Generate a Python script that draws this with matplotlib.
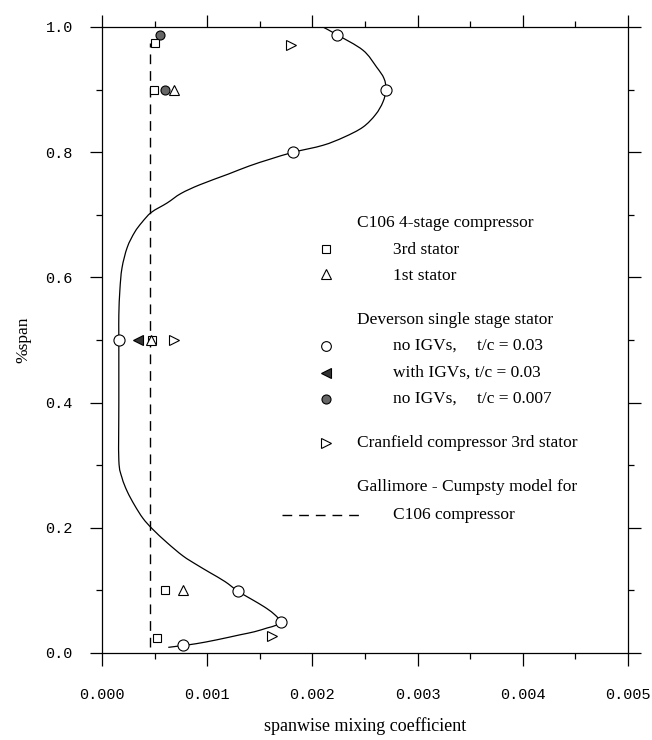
import matplotlib
matplotlib.use("Agg")
import numpy as np
import matplotlib.pyplot as plt
from matplotlib.path import Path
from matplotlib.patches import PathPatch
from matplotlib.ticker import MultipleLocator

# fitted curve through the Deverson no-IGV points
curve_x = [0.00210, 0.00223, 0.00248, 0.00261, 0.00268, 0.00270, 0.00267, 0.00260,
           0.00248, 0.00230, 0.00210, 0.00182, 0.00160, 0.00140, 0.00120, 0.00093,
           0.00075, 0.00062, 0.00047, 0.00038, 0.00031, 0.00024, 0.00019, 0.00017,
           0.00016, 0.00016, 0.00016, 0.00016, 0.00019, 0.00024, 0.00031, 0.00039,
           0.00048, 0.00062, 0.00077, 0.00090, 0.00103, 0.00117, 0.00129, 0.00142,
           0.00154, 0.00163, 0.00170, 0.00165, 0.00157, 0.00145, 0.00131, 0.00109,
           0.00090, 0.00077, 0.00063]
curve_y = [1.000, 0.988, 0.963, 0.936, 0.918, 0.900, 0.880, 0.860,
           0.840, 0.824, 0.811, 0.800, 0.789, 0.778, 0.765, 0.748,
           0.734, 0.719, 0.704, 0.688, 0.672, 0.648, 0.615, 0.580,
           0.540, 0.500, 0.400, 0.308, 0.280, 0.258, 0.236, 0.215,
           0.198, 0.176, 0.155, 0.141, 0.128, 0.114, 0.099, 0.086,
           0.074, 0.063, 0.050, 0.044, 0.040, 0.034, 0.029, 0.021,
           0.015, 0.012, 0.009]

# C106 4-stage compressor
c106_s3_x = [0.00050, 0.00049, 0.00048, 0.00060, 0.00052]
c106_s3_y = [0.975, 0.900, 0.500, 0.100, 0.024]
c106_s1_x = [0.00068, 0.00047, 0.00077]
c106_s1_y = [0.900, 0.500, 0.100]

# Deverson single stage stator
dev_noigv_x = [0.00223, 0.00270, 0.00182, 0.00016, 0.00129, 0.00170, 0.00077]
dev_noigv_y = [0.988, 0.900, 0.800, 0.500, 0.099, 0.050, 0.012]
dev_igv_x = [0.00034]
dev_igv_y = [0.500]
dev_thin_x = [0.00055, 0.00060]
dev_thin_y = [0.988, 0.900]

# Cranfield compressor 3rd stator
cran_x = [0.00180, 0.00068, 0.00162]
cran_y = [0.972, 0.500, 0.027]

# Gallimore - Cumpsty model
model_x = [0.00046, 0.00046]
model_y = [0.010, 0.975]

serif = "Liberation Serif"
mono = "Liberation Mono"


def smooth_path(xs, ys):
    # Catmull-Rom through the read points, drawn as cubic Bezier pieces
    p = np.column_stack([xs, ys])
    verts = [p[0]]
    codes = [Path.MOVETO]
    n = len(p)
    for i in range(n - 1):
        p0 = p[i - 1] if i > 0 else p[i]
        p1 = p[i]
        p2 = p[i + 1]
        p3 = p[i + 2] if i + 2 < n else p[i + 1]
        verts += [p1 + (p2 - p0) / 6, p2 - (p3 - p1) / 6, p2]
        codes += [Path.CURVE4] * 3
    return Path(verts, codes)


fig = plt.figure(figsize=(6.52, 7.40), dpi=100)
ax = fig.add_axes([102 / 652, 1 - 653 / 740, 526 / 652, 626 / 740])

ax.add_patch(PathPatch(smooth_path(curve_x, curve_y), facecolor="none",
                       edgecolor="black", lw=0.9, zorder=2))
ax.plot(model_x, model_y, color="black", lw=1.0, dashes=(7, 5), zorder=1)

mk = dict(linestyle="none", markeredgecolor="black", markeredgewidth=0.8, zorder=3)
ax.plot(c106_s3_x, c106_s3_y, marker="s", markersize=5.5, markerfacecolor="white", **mk)
ax.plot(c106_s1_x, c106_s1_y, marker="^", markersize=7, markerfacecolor="white", **mk)
ax.plot(dev_noigv_x, dev_noigv_y, marker="o", markersize=8, markerfacecolor="white", **mk)
ax.plot(dev_igv_x, dev_igv_y, marker="<", markersize=6.5, markerfacecolor="#333333", **mk)
ax.plot(dev_thin_x, dev_thin_y, marker="o", markersize=6.5, markerfacecolor="#666666", **mk)
ax.plot(cran_x, cran_y, marker=">", markersize=7, markerfacecolor="white", **mk)

ax.xaxis.set_major_locator(MultipleLocator(0.001))
ax.xaxis.set_minor_locator(MultipleLocator(0.0005))
ax.yaxis.set_major_locator(MultipleLocator(0.2))
ax.yaxis.set_minor_locator(MultipleLocator(0.1))
ax.set_xlim(0, 0.005)
ax.set_ylim(0, 1.0)
ax.xaxis.set_major_formatter(lambda v, pos: "{:.3f}".format(v))
ax.yaxis.set_major_formatter(lambda v, pos: "{:.1f}".format(v))

ax.tick_params(which="major", direction="out", length=9, width=0.9,
               top=True, right=True, labeltop=False, labelright=False)
ax.tick_params(which="minor", direction="out", length=4.5, width=0.9,
               top=True, right=True)
ax.tick_params(axis="x", which="major", pad=16)
ax.tick_params(axis="y", which="major", pad=12)
for lab in ax.get_xticklabels() + ax.get_yticklabels():
    lab.set_family(mono)
    lab.set_fontsize(11)
for sp in ax.spines.values():
    sp.set_linewidth(0.9)

ax.set_xlabel("spanwise mixing coefficient", family=serif, fontsize=13, labelpad=11)
ax.set_ylabel("%span", family=serif, fontsize=12.5, labelpad=10)


# legend drawn as text, pixel positions converted to figure fractions
def fx(px):
    return px / 652


def fy(py):
    return 1 - py / 740


tk = dict(family=serif, fontsize=12.5, va="center", ha="left")
sym_x = 326
head_x = 357
item_x = 393
tc_x = 477

fig.text(fx(head_x), fy(223), "C106 4-stage compressor", **tk)
fig.text(fx(item_x), fy(250), "3rd stator", **tk)
fig.text(fx(item_x), fy(276), "1st stator", **tk)
fig.text(fx(head_x), fy(320), "Deverson single stage stator", **tk)
fig.text(fx(item_x), fy(346), "no IGVs,", **tk)
fig.text(fx(tc_x), fy(346), "t/c = 0.03", **tk)
fig.text(fx(item_x), fy(373), "with IGVs, t/c = 0.03", **tk)
fig.text(fx(item_x), fy(399), "no IGVs,", **tk)
fig.text(fx(tc_x), fy(399), "t/c = 0.007", **tk)
fig.text(fx(head_x), fy(443), "Cranfield compressor 3rd stator", **tk)
fig.text(fx(head_x), fy(487), "Gallimore - Cumpsty model for", **tk)
fig.text(fx(item_x), fy(515), "C106 compressor", **tk)

lk = dict(transform=fig.transFigure, linestyle="none", markeredgecolor="black",
          markeredgewidth=0.8)
fig.add_artist(plt.Line2D([fx(sym_x)], [fy(249)], marker="s", markersize=5.5,
                          markerfacecolor="white", **lk))
fig.add_artist(plt.Line2D([fx(sym_x)], [fy(274)], marker="^", markersize=7,
                          markerfacecolor="white", **lk))
fig.add_artist(plt.Line2D([fx(sym_x)], [fy(346)], marker="o", markersize=7,
                          markerfacecolor="white", **lk))
fig.add_artist(plt.Line2D([fx(sym_x)], [fy(373)], marker="<", markersize=6.5,
                          markerfacecolor="#333333", **lk))
fig.add_artist(plt.Line2D([fx(sym_x)], [fy(399)], marker="o", markersize=6.5,
                          markerfacecolor="#666666", **lk))
fig.add_artist(plt.Line2D([fx(sym_x)], [fy(443)], marker=">", markersize=7,
                          markerfacecolor="white", **lk))
fig.add_artist(plt.Line2D([fx(282), fx(363)], [fy(515), fy(515)], color="black",
                          lw=1.0, dashes=(7, 5), transform=fig.transFigure))

fig.savefig("out.png", dpi=100)
